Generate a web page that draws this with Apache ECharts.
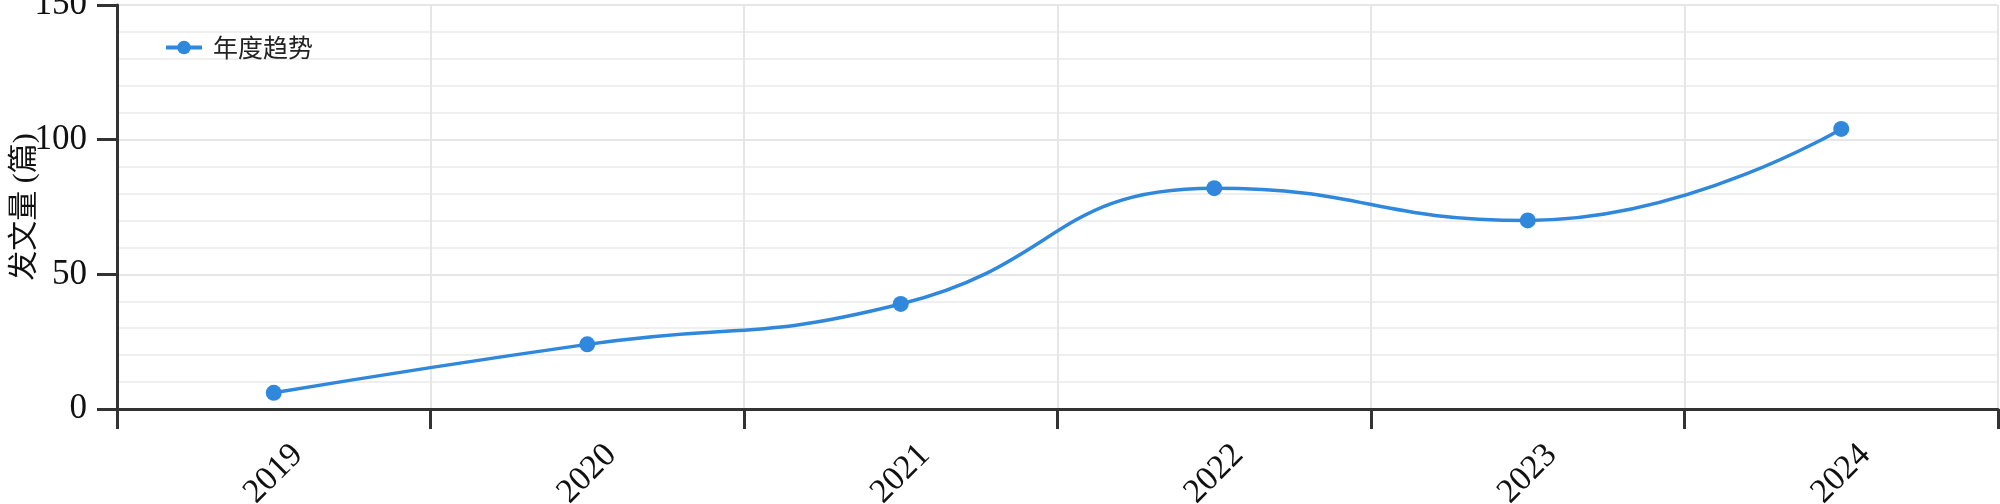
<!DOCTYPE html>
<html>
<head>
<meta charset="utf-8">
<title>年度趋势</title>
<script src="https://cdn.jsdelivr.net/npm/echarts@6/dist/echarts.min.js"></script>
<style>
    html, body { margin: 0; padding: 0; background: #fff; }
    #chart { width: 2000px; height: 504px; }
</style>
</head>
<body>
<div id="chart"></div>
<script>
    // 年份 / 发文量
    var years = ['2019', '2020', '2021', '2022', '2023', '2024'];
    var counts = [6, 24, 39, 82, 70, 104];
    var yTicks = [0, 50, 100, 150];

    var serif = '"Liberation Serif", "Times New Roman", "Noto Sans CJK SC", serif';
    var axisColor = '#333';
    var lineColor = '#2f88dc';

    var myChart = echarts.init(document.getElementById('chart'));

    var option = {
        animation: false,
        grid: {
            left: 117,
            right: 2,
            top: 5,
            bottom: 95,
            containLabel: false,
            outerBoundsMode: 'none'
        },
        legend: {
            data: ['年度趋势'],
            left: 159,
            top: 30,
            itemWidth: 36,
            itemHeight: 17,
            lineStyle: {width: 4},
            textStyle: {
                fontFamily: '"Noto Sans CJK SC", sans-serif',
                fontSize: 25,
                color: '#222',
                padding: [0, 0, 0, 6]
            }
        },
        xAxis: {
            type: 'category',
            data: years,
            boundaryGap: true,
            axisLine: {lineStyle: {color: axisColor, width: 3}},
            axisTick: {show: true, length: 20, lineStyle: {color: axisColor, width: 3}},
            splitLine: {show: true, lineStyle: {color: '#e6e6e6', width: 2}},
            axisLabel: {
                rotate: 45,
                align: 'center',
                verticalAlign: 'middle',
                margin: 65,
                padding: [22, 0, 0, 0],
                fontFamily: serif,
                fontSize: 34,
                color: '#111'
            }
        },
        yAxis: {
            type: 'value',
            min: yTicks[0],
            max: yTicks[yTicks.length - 1],
            interval: 50,
            name: '发文量 (篇)',
            nameLocation: 'middle',
            nameGap: 77,
            nameMoveOverlap: false,
            nameTextStyle: {fontFamily: serif, fontSize: 30, color: '#111'},
            axisLine: {show: true, lineStyle: {color: axisColor, width: 3}},
            axisTick: {show: true, length: 20, lineStyle: {color: axisColor, width: 3}},
            axisLabel: {margin: 30, fontFamily: serif, fontSize: 35, color: '#111'},
            splitLine: {show: true, lineStyle: {color: '#e6e6e6', width: 2}},
            minorTick: {show: false, splitNumber: 5},
            minorSplitLine: {show: true, lineStyle: {color: '#efefef', width: 2}}
        },
        series: [
            {
                name: '年度趋势',
                type: 'line',
                data: counts,
                smooth: true,
                symbol: 'circle',
                symbolSize: 16,
                lineStyle: {color: lineColor, width: 3.5},
                itemStyle: {color: lineColor}
            }
        ]
    };

    myChart.setOption(option);
</script>
</body>
</html>
